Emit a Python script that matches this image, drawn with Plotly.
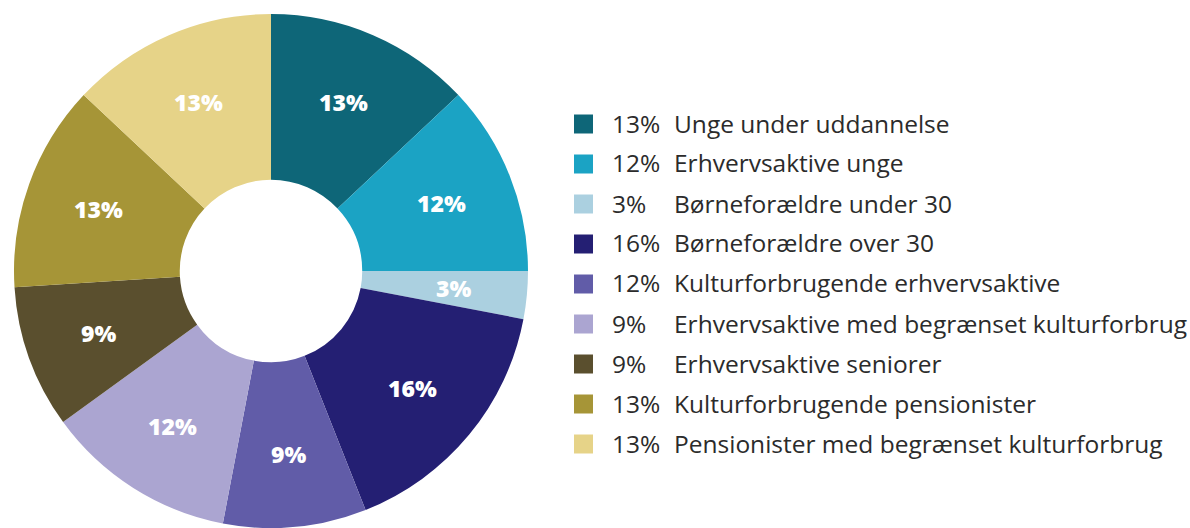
import math
import plotly.graph_objects as go

segments = [
    "Unge under uddannelse",
    "Erhvervsaktive unge",
    "Børneforældre under 30",
    "Børneforældre over 30",
    "Kulturforbrugende erhvervsaktive",
    "Erhvervsaktive med begrænset kulturforbrug",
    "Erhvervsaktive seniorer",
    "Kulturforbrugende pensionister",
    "Pensionister med begrænset kulturforbrug",
]
slice_values = [13, 12, 3, 16, 9, 12, 9, 13, 13]
legend_pct = ["13%", "12%", "3%", "16%", "12%", "9%", "9%", "13%", "13%"]
colors = ["#0e6678", "#1ba3c4", "#abd0e0", "#241f73", "#615ca8",
          "#aba5d1", "#5a4f2e", "#a69537", "#e6d388"]

W, H = 1190, 528
MT, MB = 14, 0
PLOT_H = H - MT - MB
PIE_W = 542      # pie domain width in px

def px_x(X):     # pixel x -> paper x
    return X / W

def px_y(Y):     # pixel y -> paper y
    return (H - MB - Y) / PLOT_H

fig = go.Figure()
fig.add_trace(go.Pie(
    labels=segments,
    values=slice_values,
    sort=False,
    direction="clockwise",
    rotation=0,
    hole=0.355,
    marker=dict(colors=colors, line=dict(width=0)),
    textinfo="none",
    domain=dict(x=[0, PIE_W / W], y=[0, 1]),
    showlegend=False,
    hoverinfo="label+percent",
))

annotations = []
shapes = []

# slice labels placed at the middle angle of every slice
radius = min(PIE_W, PLOT_H) / 2
cx, cy = PIE_W / 2, MT + PLOT_H / 2
label_r = radius * 0.715
total = sum(slice_values)
cum = 0
for v in slice_values:
    ang = 2 * math.pi * (cum + v / 2) / total
    cum += v
    X = cx + label_r * math.sin(ang)
    Y = cy - label_r * math.cos(ang)
    annotations.append(dict(xref="paper", yref="paper", x=px_x(X), y=px_y(Y),
                            text=f"{v}%", showarrow=False,
                            xanchor="center", yanchor="middle",
                            font=dict(family="Open Sans", size=23, color="white",
                                      weight=800)))

# custom legend
row0, step = 124, 40
for i, (pct, lab, col) in enumerate(zip(legend_pct, segments, colors)):
    yc = row0 + i * step
    shapes.append(dict(type="rect", xref="paper", yref="paper",
                       x0=px_x(574), x1=px_x(593), y0=px_y(yc + 9.5), y1=px_y(yc - 9.5),
                       fillcolor=col, line=dict(width=0)))
    annotations.append(dict(xref="paper", yref="paper", x=px_x(610), y=px_y(yc - 1),
                            text=pct, showarrow=False, xanchor="left", yanchor="middle",
                            font=dict(family="Open Sans", size=24.5, color="#2b2b2b")))
    annotations.append(dict(xref="paper", yref="paper", x=px_x(672), y=px_y(yc - 1),
                            text=lab, showarrow=False, xanchor="left", yanchor="middle",
                            font=dict(family="Open Sans", size=24.5, color="#2b2b2b")))

fig.update_layout(
    width=W, height=H,
    margin=dict(l=0, r=0, t=MT, b=MB),
    paper_bgcolor="white", plot_bgcolor="white",
    shapes=shapes, annotations=annotations,
)
fig.write_html("out.html",
               config={"displayModeBar": False},
               post_script="document.body.style.margin='0px';"
                           "document.body.style.overflow='hidden';")
